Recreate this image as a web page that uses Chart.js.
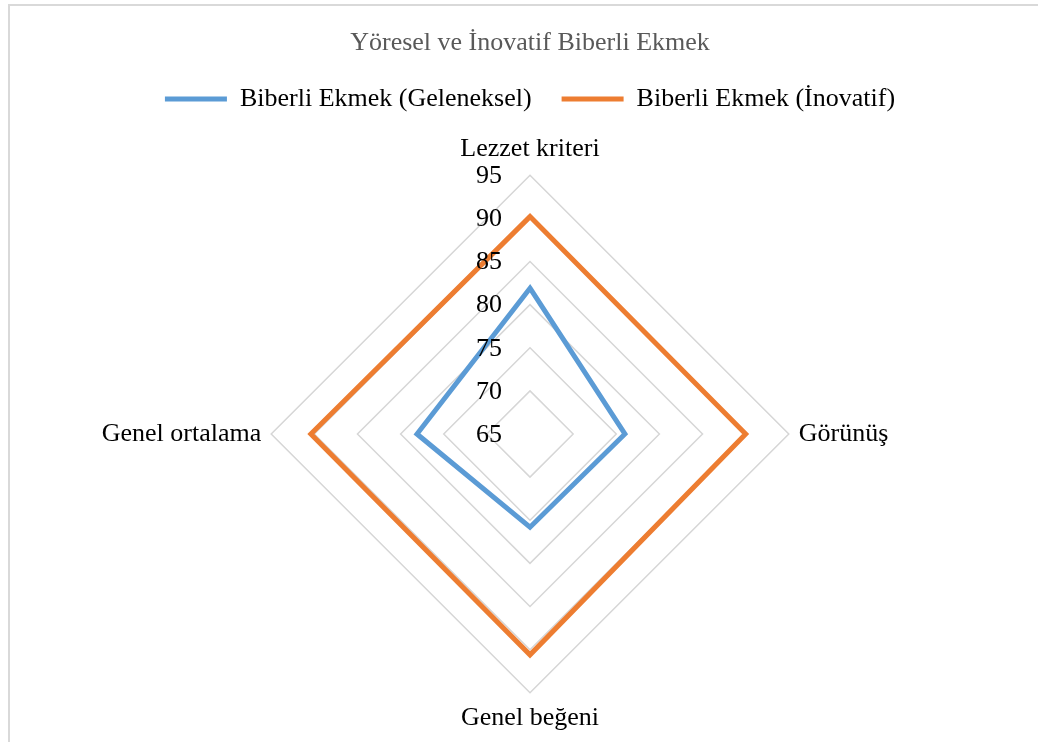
<!DOCTYPE html>
<html>
<head>
<meta charset="utf-8">
<script src="https://cdn.jsdelivr.net/npm/chart.js@4"></script>
<style>
    html, body { margin: 0; padding: 0; background: #fff; overflow: hidden; }
    .frame { position: absolute; left: 8px; top: 4px; width: 1100px; height: 800px;
             border-left: 2px solid #d9d9d9; border-top: 2px solid #d9d9d9; }
    .wrap { position: absolute; left: 0; top: 0; width: 1038px; height: 742px; }
</style>
</head>
<body>
<div class="frame"></div>
<div class="wrap"><canvas id="radarChart"></canvas></div>
<script>
    const chartTitle = 'Yöresel ve İnovatif Biberli Ekmek';
    const categories = ['Lezzet kriteri', 'Görünüş', 'Genel beğeni', 'Genel ortalama'];
    const geleneksel = [81.9, 76.0, 75.8, 78.1];
    const inovatif = [90.2, 90.0, 90.6, 90.4];
    const tickValues = [65, 70, 75, 80, 85, 90, 95];

    const serif = "'Liberation Serif', 'Times New Roman', serif";

    // legend block needs some extra height below it
    const legendSpacer = {
        id: 'legendSpacer',
        beforeInit(chart) {
            const fit = chart.legend.fit;
            chart.legend.fit = function () {
                fit.call(this);
                this.height += 12;
            };
        }
    };

    // tick labels sit left of the vertical axis, including the centre value
    const tickLabels = {
        id: 'tickLabels',
        afterDatasetsDraw(chart) {
            const scale = chart.scales.r;
            const ctx = chart.ctx;
            ctx.save();
            ctx.font = `26px ${serif}`;
            ctx.fillStyle = '#000';
            ctx.textAlign = 'right';
            ctx.textBaseline = 'middle';
            tickValues.forEach(v => {
                const p = scale.getPointPositionForValue(0, v);
                ctx.fillText(String(v), p.x - 28, p.y + 1);
            });
            ctx.restore();
        }
    };

    new Chart(document.querySelector('#radarChart'), {
        type: 'radar',
        data: {
            labels: categories,
            datasets: [{
                label: 'Biberli Ekmek (Geleneksel)',
                data: geleneksel,
                borderColor: '#5b9bd5',
                backgroundColor: '#5b9bd5',
                borderWidth: 5,
                borderCapStyle: 'round',
                pointRadius: 0,
                fill: false,
            }, {
                label: 'Biberli Ekmek (İnovatif)',
                data: inovatif,
                borderColor: '#ed7d31',
                backgroundColor: '#ed7d31',
                borderWidth: 5,
                borderCapStyle: 'round',
                pointRadius: 0,
                fill: false,
            }],
        },
        options: {
            responsive: true,
            maintainAspectRatio: false,
            animation: false,
            layout: { padding: { top: 0, left: 22, right: 0, bottom: 7 } },
            plugins: {
                title: {
                    display: true,
                    text: chartTitle,
                    color: '#595959',
                    font: { family: serif, size: 26, weight: 'normal', lineHeight: 1 },
                    padding: { top: 30, bottom: 0 },
                },
                legend: {
                    position: 'top',
                    labels: {
                        color: '#000',
                        font: { family: serif, size: 26 },
                        usePointStyle: true,
                        pointStyle: 'line',
                        pointStyleWidth: 62,
                        padding: 30,
                    },
                },
                tooltip: { enabled: false },
            },
            scales: {
                r: {
                    min: 65,
                    max: 95,
                    ticks: { stepSize: 5, display: false },
                    grid: { color: '#d6d6d6', lineWidth: 1.5 },
                    angleLines: { display: false },
                    pointLabels: {
                        color: '#000',
                        font: { family: serif, size: 26 },
                        padding: 10,
                    },
                },
            },
        },
        plugins: [legendSpacer, tickLabels],
    });
</script>
</body>
</html>
